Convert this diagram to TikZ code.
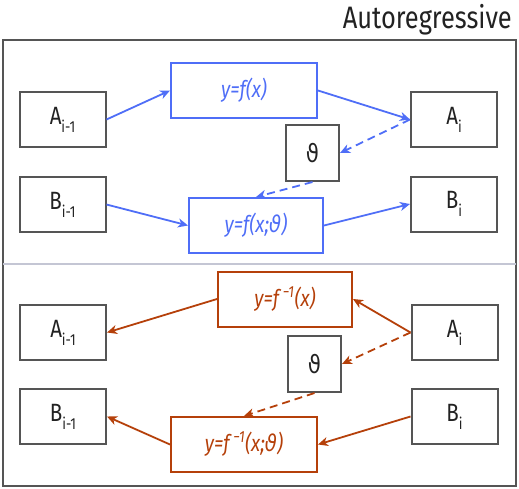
\documentclass[tikz,border=0pt]{standalone}
\usepackage{fontspec}
\setmainfont{Fira Sans}[FakeStretch=0.82]
\newfontfamily\thetafont{DejaVu Sans}[FakeStretch=0.85]
\usetikzlibrary{arrows.meta}
\definecolor{fwd}{HTML}{4F6EF7}
\definecolor{inv}{HTML}{B5400A}
\definecolor{boxgray}{HTML}{555555}
\definecolor{divider}{HTML}{C4C6D4}
\definecolor{txt}{HTML}{222222}
\newcommand\subtx[1]{\raisebox{-0.6ex}{\fontsize{16}{16}\selectfont #1}}
\newcommand\thsym{{\thetafont ϑ}}
\newcommand\thsymit{{\thetafont\itshape ϑ}}
\begin{document}
\begin{tikzpicture}[x=1pt,y=-1pt,
  box/.style={draw=boxgray,line width=2pt,minimum width=86pt,minimum height=55pt,inner sep=0pt,text=txt,font=\fontsize{25}{25}\selectfont},
  thbox/.style={box,minimum width=53pt,minimum height=56pt},
  fnbox/.style={draw=fwd,line width=2pt,minimum height=55pt,inner sep=0pt,text=fwd,font=\fontsize{23}{23}\selectfont\itshape},
  invbox/.style={fnbox,draw=inv,text=inv},
  tipstyle/.style={-{Stealth[length=10pt,width=9pt,inset=3pt]}},
  farr/.style={draw=fwd,line width=1.8pt,tipstyle},
  iarr/.style={draw=inv,line width=1.8pt,tipstyle},
  dsh/.style={dash pattern=on 8pt off 5pt}
]
\useasboundingbox (0,0) rectangle (519,488);
\node[anchor=east,text=txt,font=\fontsize{31}{31}\selectfont,inner sep=0pt] (title) at (512,20) {Autoregressive};
\draw[draw=boxgray,line width=2pt] (3,40) rectangle (516,486);
\draw[divider,line width=2pt] (3,263.5) -- (516,263.5);

% top: forward
\node[box] (a1) at (62.5,119.5) {A\subtx{i-1}};
\node[box] (b1) at (62.5,204.5) {B\subtx{i-1}};
\node[box] (a2) at (454,119.5) {A\subtx{i}};
\node[box] (b2) at (454,204) {B\subtx{i}};
\node[fnbox,minimum width=146pt] (fx) at (244,90.5) {y=f(x)};
\node[thbox] (th) at (312.5,153) {\thsym};
\node[fnbox,minimum width=134pt] (fxt) at (256,225.5) {y=f(x;\thsymit)};

\draw[farr] (a1.east) -- (fx.west);
\draw[farr] (fx.east) -- (a2.west);
\draw[farr,dsh] (a2.west) -- (th.east);
\draw[farr,dsh] (th.south) -- (fxt.north);
\draw[farr] (b1.east) -- (fxt.west);
\draw[farr] (fxt.east) -- (b2.west);

% bottom: inverse
\node[box] (c1) at (63,332.5) {A\subtx{i-1}};
\node[box] (d1) at (63,416.5) {B\subtx{i-1}};
\node[box] (c2) at (454.5,332.5) {A\subtx{i}};
\node[box] (d2) at (454.5,416.5) {B\subtx{i}};
\node[invbox,minimum width=134pt] (fi) at (285,299) {y=f\,\textsuperscript{−1}(x)};
\node[thbox] (th2) at (314.5,364) {\thsym};
\node[invbox,minimum width=146pt] (fit) at (244,444.5) {y=f\,\textsuperscript{−1}(x;\thsymit)};

\draw[iarr] (c2.west) -- (fi.east);
\draw[iarr] (fi.west) -- (c1.east);
\draw[iarr,dsh] (c2.west) -- (th2.east);
\draw[iarr,dsh] (th2.south) -- (fit.north);
\draw[iarr] (d2.west) -- (fit.east);
\draw[iarr] (fit.west) -- (d1.east);
\end{tikzpicture}
\end{document}
